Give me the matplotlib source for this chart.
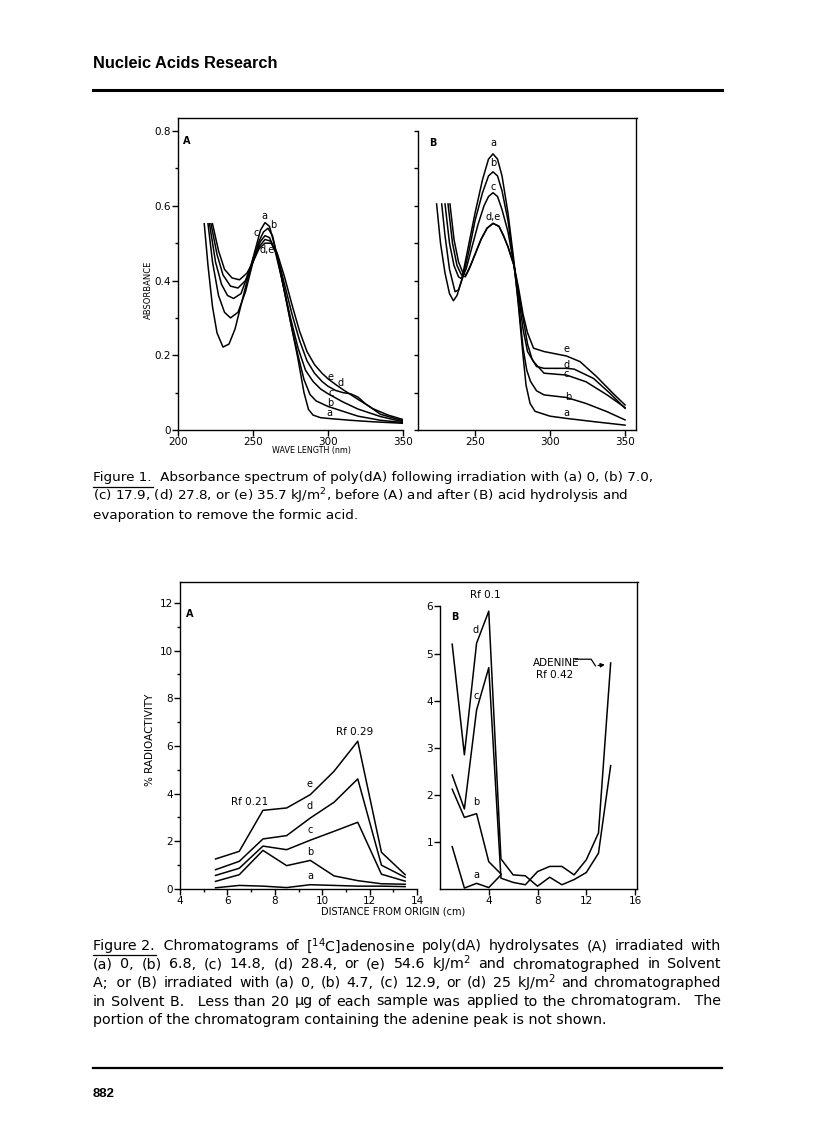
import matplotlib
matplotlib.use('Agg')
import matplotlib.pyplot as plt
from matplotlib.lines import Line2D

# ---- Figure 1A: absorbance before hydrolysis ----
wl_A_a = [217.5, 220, 223, 226, 230, 234, 238, 243, 248, 252, 255, 258, 261, 264, 268, 272, 276, 280, 284, 287, 290, 295, 300, 315, 330, 350]
ab_A_a = [0.552, 0.44, 0.33, 0.26, 0.222, 0.23, 0.27, 0.35, 0.43, 0.49, 0.535, 0.555, 0.545, 0.50, 0.43, 0.35, 0.27, 0.19, 0.10, 0.055, 0.04, 0.033, 0.031, 0.026, 0.022, 0.018]
wl_A_b = [220, 223, 227, 231, 235, 240, 245, 250, 254, 257, 260, 263, 267, 272, 276, 280, 284, 288, 292, 300, 310, 320, 335, 350]
ab_A_b = [0.552, 0.45, 0.36, 0.315, 0.30, 0.315, 0.37, 0.45, 0.505, 0.53, 0.54, 0.52, 0.45, 0.35, 0.27, 0.2, 0.135, 0.095, 0.078, 0.063, 0.05, 0.037, 0.026, 0.02]
wl_A_c = [221, 225, 229, 233, 237, 242, 247, 251, 255, 258, 261, 265, 270, 275, 280, 285, 290, 295, 300, 310, 320, 335, 350]
ab_A_c = [0.552, 0.45, 0.39, 0.36, 0.352, 0.365, 0.42, 0.47, 0.505, 0.52, 0.515, 0.475, 0.39, 0.30, 0.22, 0.16, 0.13, 0.11, 0.097, 0.075, 0.056, 0.036, 0.022]
wl_A_d = [222, 226, 230, 235, 240, 245, 250, 254, 258, 262, 266, 271, 276, 281, 286, 291, 296, 300, 305, 310, 315, 320, 325, 335, 350]
ab_A_d = [0.552, 0.47, 0.415, 0.385, 0.38, 0.40, 0.45, 0.49, 0.51, 0.505, 0.47, 0.39, 0.31, 0.24, 0.185, 0.152, 0.13, 0.117, 0.106, 0.1, 0.097, 0.088, 0.07, 0.042, 0.025]
wl_A_e = [223, 227, 231, 236, 241, 246, 250, 254, 258, 262, 266, 271, 276, 281, 286, 291, 296, 300, 305, 310, 320, 330, 340, 350]
ab_A_e = [0.552, 0.48, 0.43, 0.407, 0.402, 0.42, 0.45, 0.485, 0.50, 0.50, 0.475, 0.41, 0.335, 0.265, 0.21, 0.175, 0.152, 0.137, 0.122, 0.108, 0.082, 0.057, 0.04, 0.028]

# ---- Figure 1B: absorbance after hydrolysis ----
wl_B_a = [224.4, 227, 230, 233, 235.6, 238, 241, 245, 250, 255, 259, 262, 265, 268, 272, 276, 279, 282, 284, 286.7, 290, 300, 311, 330, 350]
ab_B_a = [0.605, 0.5, 0.42, 0.365, 0.346, 0.36, 0.40, 0.48, 0.58, 0.67, 0.725, 0.739, 0.725, 0.68, 0.58, 0.45, 0.33, 0.2, 0.12, 0.071, 0.05, 0.037, 0.031, 0.022, 0.013]
wl_B_b = [227.8, 230, 233, 236.7, 239, 242, 246, 250, 255, 259, 262, 265, 268, 272, 276, 279, 282, 284.5, 287, 291, 296, 311, 324, 338, 350]
ab_B_b = [0.605, 0.52, 0.43, 0.37, 0.375, 0.41, 0.48, 0.56, 0.635, 0.68, 0.691, 0.68, 0.64, 0.56, 0.44, 0.34, 0.22, 0.16, 0.13, 0.105, 0.094, 0.087, 0.071, 0.049, 0.027]
wl_B_c = [230, 233, 236, 239, 241, 244, 248, 252, 256, 259, 262, 265, 268, 272, 276, 279, 282, 285, 289, 296, 311, 324, 338, 350]
ab_B_c = [0.605, 0.5, 0.44, 0.41, 0.405, 0.43, 0.49, 0.55, 0.6, 0.625, 0.635, 0.625, 0.59, 0.53, 0.44, 0.36, 0.27, 0.21, 0.183, 0.152, 0.147, 0.129, 0.094, 0.06]
wl_B_d = [232, 235, 238, 241, 243.5, 246, 250, 254, 258, 262, 266, 269, 272, 276, 279, 282, 285, 288, 291, 296, 311, 316, 329, 340, 350]
ab_B_d = [0.605, 0.5, 0.44, 0.415, 0.41, 0.43, 0.47, 0.51, 0.54, 0.553, 0.545, 0.52, 0.49, 0.44, 0.37, 0.3, 0.23, 0.19, 0.17, 0.165, 0.165, 0.163, 0.138, 0.098, 0.058]
wl_B_e = [233.3, 236, 239, 242, 244, 247, 250, 254, 258, 262, 266, 269, 272, 276, 279, 282, 285, 289, 296, 311, 320, 331, 342, 350]
ab_B_e = [0.605, 0.51, 0.45, 0.42, 0.415, 0.44, 0.47, 0.51, 0.54, 0.553, 0.545, 0.52, 0.49, 0.44, 0.38, 0.31, 0.26, 0.219, 0.21, 0.198, 0.183, 0.143, 0.098, 0.067]

# ---- Figure 2A: chromatograms, solvent A ----
dist_A = [5.5, 6.5, 7.5, 8.5, 9.5, 10.5, 11.5, 12.5, 13.5]
rad_A_a = [0.05, 0.15, 0.12, 0.06, 0.18, 0.15, 0.12, 0.12, 0.1]
rad_A_b = [0.32, 0.6, 1.62, 0.98, 1.2, 0.55, 0.35, 0.22, 0.2]
rad_A_c = [0.57, 0.87, 1.8, 1.65, 2.05, 2.42, 2.8, 0.62, 0.33]
rad_A_d = [0.81, 1.16, 2.1, 2.24, 2.98, 3.64, 4.62, 1.0, 0.49]
rad_A_e = [1.26, 1.58, 3.3, 3.4, 3.96, 4.94, 6.2, 1.54, 0.6]

# ---- Figure 2B: chromatograms, solvent B ----
dist_B = [1, 2, 3, 4, 5, 6, 7, 8, 9, 10, 11, 12, 13, 14]
dist_B_short = [1, 2, 3, 4, 5]
rad_B_a = [0.9, 0.02, 0.12, 0.03, 0.3]
rad_B_b = [2.12, 1.52, 1.6, 0.58, 0.32]
rad_B_c = [2.42, 1.7, 3.8, 4.7, 0.23, 0.14, 0.09, 0.37, 0.48, 0.48, 0.3, 0.62, 1.19, 4.8]
rad_B_d = [5.2, 2.85, 5.22, 5.9, 0.64, 0.3, 0.28, 0.06, 0.25, 0.09, 0.2, 0.35, 0.76, 2.62]

plt.rcParams['font.family'] = ['DejaVu Sans']

W, H = 816, 1145
fig = plt.figure(figsize=(W / 100, H / 100), dpi=100)
renderer = fig.canvas.get_renderer()


def box(x0, y0, x1, y1):
    return fig.add_axes([x0 / W, 1 - y1 / H, (x1 - x0) / W, (y1 - y0) / H])


def hline(x0, x1, y, lw=1.0):
    fig.add_artist(Line2D([x0 / W, x1 / W], [1 - y / H, 1 - y / H], color='black', lw=lw))


def ftext(x, y, s, **kw):
    return fig.text(x / W, 1 - y / H, s, **kw)


def justify(x0, x1, y, s, **kw):
    # spread the words of one caption line between x0 and x1 (pixels); '~' keeps words together
    words = [w.replace('~', ' ') for w in s.split(' ') if w]
    widths = []
    for w in words:
        t = ftext(0, 0, w, **kw)
        widths.append(t.get_window_extent(renderer).width)
        t.remove()
    gap = (x1 - x0 - sum(widths)) / (len(words) - 1)
    x = x0
    for w, wd in zip(words, widths):
        ftext(x, y, w, **kw)
        x += wd + gap


def style(ax, right=False):
    ax.spines['top'].set_visible(False)
    ax.spines['right'].set_visible(right)
    for s in ax.spines.values():
        s.set_linewidth(1.0)
    ax.tick_params(which='major', length=4, width=1, labelsize=7.5, pad=1)
    ax.tick_params(which='minor', length=2.5, width=1)
    ax.patch.set_alpha(0)


lw = 1.1
lab = dict(fontsize=7, ha='center', va='center')

# ----- Figure 1 -----
ax1 = box(178, 118, 403, 430)
style(ax1)
for x, y in [(wl_A_a, ab_A_a), (wl_A_b, ab_A_b), (wl_A_c, ab_A_c), (wl_A_d, ab_A_d), (wl_A_e, ab_A_e)]:
    ax1.plot(x, y, color='black', lw=lw)
ax1.set_xlim(200, 350)
ax1.set_ylim(0, 0.835)
ax1.set_xticks([200, 250, 300, 350])
ax1.set_yticks([0, 0.2, 0.4, 0.6, 0.8])
ax1.set_yticklabels(['0', '0.2', '0.4', '0.6', '0.8'])
ax1.set_yticks([0.1, 0.3, 0.5, 0.7], minor=True)
ax1.text(206, 0.773, 'A', fontsize=7, fontweight='bold', ha='center', va='center')
ax1.text(257.8, 0.572, 'a', **lab)
ax1.text(263.8, 0.548, 'b', **lab)
ax1.text(252, 0.527, 'c', **lab)
ax1.text(259.5, 0.481, 'd,e', **lab)
ax1.text(301.7, 0.143, 'e', **lab)
ax1.text(308.5, 0.125, 'd', **lab)
ax1.text(302, 0.1, 'c', **lab)
ax1.text(301.7, 0.073, 'b', **lab)
ax1.text(301, 0.045, 'a', **lab)

ax2 = box(418, 118, 636, 430)
style(ax2, right=True)
for x, y in [(wl_B_a, ab_B_a), (wl_B_b, ab_B_b), (wl_B_c, ab_B_c), (wl_B_d, ab_B_d), (wl_B_e, ab_B_e)]:
    ax2.plot(x, y, color='black', lw=lw)
ax2.set_xlim(212, 357.3)
ax2.set_ylim(0, 0.835)
ax2.spines['left'].set_bounds(0, 0.8)
ax2.set_xticks([250, 300, 350])
ax2.set_yticks([0, 0.1, 0.2, 0.3, 0.4, 0.5, 0.6, 0.7, 0.8])
ax2.set_yticklabels([])
ax2.tick_params(axis='y', length=3)
ax2.text(221.6, 0.767, 'B', fontsize=7, fontweight='bold', ha='center', va='center')
ax2.text(262.2, 0.767, 'a', **lab)
ax2.text(262.2, 0.714, 'b', **lab)
ax2.text(262.2, 0.651, 'c', **lab)
ax2.text(262.2, 0.569, 'd,e', **lab)
ax2.text(311.1, 0.216, 'e', **lab)
ax2.text(311.1, 0.174, 'd', **lab)
ax2.text(311.1, 0.15, 'c', **lab)
ax2.text(312.2, 0.089, 'b', **lab)
ax2.text(311.1, 0.045, 'a', **lab)

hline(178, 636.5, 118)
ftext(148, 290, 'ABSORBANCE', fontsize=6, rotation=90, ha='center', va='center')
ftext(312, 450, 'WAVE LENGTH (nm)', fontsize=5.8, ha='center', va='center')

# ----- Figure 2 -----
ax3 = box(180, 582, 417, 889)
style(ax3)
for y in [rad_A_a, rad_A_b, rad_A_c, rad_A_d, rad_A_e]:
    ax3.plot(dist_A, y, color='black', lw=lw)
ax3.set_xlim(4, 14)
ax3.set_ylim(0, 12.88)
ax3.set_xticks([4, 6, 8, 10, 12, 14])
ax3.set_xticks([5, 7, 9, 11, 13], minor=True)
ax3.set_yticks([0, 2, 4, 6, 8, 10, 12])
ax3.set_yticks([1, 3, 5, 7, 9, 11], minor=True)
ax3.text(4.4, 11.54, 'A', fontsize=7, fontweight='bold', ha='center', va='center')
ax3.text(6.95, 3.64, 'Rf 0.21', fontsize=7.5, ha='center', va='center')
ax3.text(11.37, 6.57, 'Rf 0.29', fontsize=7.5, ha='center', va='center')
ax3.text(9.48, 4.42, 'e', **lab)
ax3.text(9.48, 3.47, 'd', **lab)
ax3.text(9.48, 2.49, 'c', **lab)
ax3.text(9.48, 1.54, 'b', **lab)
ax3.text(9.48, 0.56, 'a', **lab)

ax4 = box(440, 582, 637, 889)
style(ax4, right=True)
ax4.plot(dist_B_short, rad_B_a, color='black', lw=lw)
ax4.plot(dist_B_short, rad_B_b, color='black', lw=lw)
ax4.plot(dist_B, rad_B_c, color='black', lw=lw)
ax4.plot(dist_B, rad_B_d, color='black', lw=lw)
ax4.set_xlim(0, 16.16)
ax4.set_ylim(0, 6.52)
ax4.spines['left'].set_bounds(0, 6)
ax4.set_xticks([4, 8, 12, 16])
ax4.set_yticks([1, 2, 3, 4, 5, 6])
ax4.text(1.19, 5.77, 'B', fontsize=7, fontweight='bold', ha='center', va='center')
ax4.text(3.73, 6.25, 'Rf 0.1', fontsize=7.5, ha='center', va='center')
ax4.text(2.9, 5.49, 'd', **lab)
ax4.text(2.96, 4.09, 'c', **lab)
ax4.text(3.0, 1.84, 'b', **lab)
ax4.text(3.0, 0.3, 'a', **lab)
ax4.text(9.5, 4.81, 'ADENINE', fontsize=7.5, ha='center', va='center')
ax4.text(9.4, 4.55, 'Rf 0.42', fontsize=7.5, ha='center', va='center')
ax4.plot([11.1, 12.4, 12.75], [4.88, 4.88, 4.74], color='black', lw=0.9)
ax4.annotate('', xy=(13.75, 4.77), xytext=(12.75, 4.74),
             arrowprops=dict(arrowstyle='-|>', color='black', lw=0.9, mutation_scale=6))

hline(180, 637.5, 582)
ftext(150, 740, '% RADIOACTIVITY', fontsize=7.5, rotation=90, ha='center', va='center')
ftext(393, 912, 'DISTANCE FROM ORIGIN (cm)', fontsize=7, ha='center', va='center')

# ----- page text -----
ftext(93, 63, 'Nucleic Acids Research', fontsize=11.8, fontweight='bold',
      family=['Liberation Sans'], ha='left', va='center')
hline(93, 722, 90, lw=2.2)
hline(93, 722, 1068, lw=1.6)
ftext(93, 1094, '882', fontsize=9.5, fontweight='bold', family=['Liberation Sans'],
      ha='left', va='center')

cap = dict(fontsize=9.7, ha='left', va='center')
cap1 = ['Figure 1.  Absorbance spectrum of poly(dA) following irradiation with (a) 0, (b) 7.0,',
        '(c) 17.9, (d) 27.8, or (e) 35.7 kJ/m$^2$, before (A) and after (B) acid hydrolysis and',
        'evaporation to remove the formic acid.']
for i, s in enumerate(cap1):
    ftext(93, 478 + 18.5 * i, s, **cap)
hline(93, 153, 487, lw=0.9)

cap2b = dict(fontsize=10.3, ha='left', va='center')
cap2 = ['Figure~2.~~Chromatograms of [$^{14}$C]adenosine poly(dA) hydrolysates (A) irradiated with',
        '(a) 0, (b) 6.8, (c) 14.8, (d) 28.4, or (e) 54.6 kJ/m$^2$ and chromatographed in Solvent',
        'A;~~or (B) irradiated with (a) 0, (b) 4.7, (c) 12.9, or (d) 25 kJ/m$^2$ and chromatographed',
        'in Solvent B.~~~Less than 20 \u03bcg of each sample was applied to the chromatogram.~~~The',
        'portion of the chromatogram containing the adenine peak is not shown.']
for i, s in enumerate(cap2):
    if i < 4:
        justify(93, 721, 946 + 18.5 * i, s, **cap2b)
    else:
        ftext(93, 946 + 18.5 * i, s, **cap2b)
hline(93, 156, 955, lw=0.9)

fig.savefig('out.png', dpi=100)
